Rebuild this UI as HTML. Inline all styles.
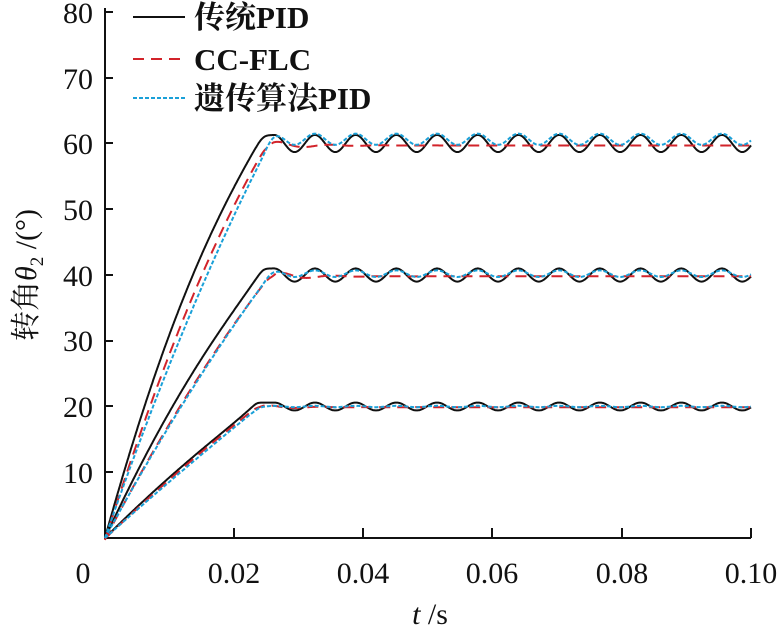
<!DOCTYPE html>
<html><head><meta charset="utf-8"><style>
html,body{margin:0;padding:0;background:#fff;}
svg{display:block;}
text{font-family:"Liberation Serif","Noto Serif CJK SC",serif;fill:#111;}
</style></head><body>
<svg id="s" width="784" height="630" viewBox="0 0 784 630" xmlns="http://www.w3.org/2000/svg">
<g stroke="#111" stroke-width="2" fill="none">
<path d="M105,8 V538 H751"/>
<path d="M105,12 h8 M105,78 h8 M105,143 h8 M105,209 h8 M105,275 h8 M105,341 h8 M105,406 h8 M105,472 h8"/>
<path d="M234,538 v-10 M363,538 v-10 M492,538 v-10 M622,538 v-10 M751,538 v-10"/>
</g>
<g font-size="30" text-anchor="end">
<text x="93" y="23">80</text><text x="93" y="89">70</text><text x="93" y="154">60</text><text x="93" y="220">50</text>
<text x="93" y="286">40</text><text x="93" y="351">30</text><text x="93" y="417">20</text><text x="93" y="483">10</text>
</g>
<g font-size="30" text-anchor="middle">
<text x="83" y="583">0</text><text x="234" y="583">0.02</text><text x="363" y="583">0.04</text><text x="492" y="583">0.06</text><text x="622" y="583">0.08</text><text x="751" y="583">0.10</text>
<text x="430" y="624"><tspan font-style="italic">t</tspan> /s</text>
</g>
<text transform="translate(36,275) rotate(-90)" font-size="30" text-anchor="middle">转角<tspan font-style="italic">θ</tspan><tspan font-size="19" dy="7">2</tspan><tspan dy="-7"> /(°)</tspan></text>
<g id="curves" fill="none"></g>
<g>
<line x1="133" y1="17" x2="185" y2="17" stroke="#111" stroke-width="2"/>
<line x1="133" y1="59" x2="185" y2="59" stroke="#d2232a" stroke-width="2" stroke-dasharray="11,7"/>
<line x1="133" y1="98" x2="185" y2="98" stroke="#1aa0d8" stroke-width="2" stroke-dasharray="4,2"/>
<g font-size="31" font-weight="bold">
<text x="194" y="28">传统PID</text>
<text x="194" y="70">CC-FLC</text>
<text x="194" y="109">遗传算法PID</text>
</g></g>
</svg>
<script>
var X=function(t){return 105+t*6460;},Y=function(v){return 538-v*6.575;};
var g=document.getElementById('curves');
function add(f,col,dash){var d='';for(var i=0;i<=1000;i++){var t=i/10000;d+=(i?'L':'M')+X(t).toFixed(1)+','+Y(f(t)).toFixed(1);}
var p=document.createElementNS('http://www.w3.org/2000/svg','path');p.setAttribute('d',d);p.setAttribute('stroke',col);p.setAttribute('stroke-width','2');if(dash)p.setAttribute('stroke-dasharray',dash);g.appendChild(p);}
var P=0.0063,TP=0.0262;
function osc(t){return Math.cos(2*Math.PI*(t-TP)/P);}
function smin(a,b,w){var d=b-a;return b-w*Math.log(1+Math.exp(d/w));}
function base(A,T,k,w,t){var u=t/T;var r=A*(u*(1+k)-k*u*u);if(u>1)r=A*(1-k)*u+k*A*1; return smin(r,A,w);}
function sig(x){return 1/(1+Math.exp(-x));}
function black(A,T,k,amp){return function(t){
 if(t<TP){var b=base(A,T,k,A*0.008,t);return b+amp*Math.pow(Math.max(0,b/A),10);}
 return A+amp*osc(t);};}
function red(A,T,k,amp){return function(t){
 var b=base(A,T,k,A*0.01,t)-0.3*(A/60);
 return b+(t>T?amp*Math.exp(-(t-T)/0.005)*Math.sin(2*Math.PI*(t-T)/0.008)*Math.min(1,(t-T)/0.001):0);};}
function blue(A,T,k,amp,off){return function(t){
 var s=sig((t-T)/0.0008);return base(A,T,k,A*0.012,t)+off*s+amp*s*osc(t);};}
add(black(60,0.0245,0.45,1.3),'#111');
add(black(40,0.0245,0.3,1.0),'#111');
add(black(20,0.0235,0.15,0.6),'#111');
add(red(60,0.025,0.3,0.8),'#d2232a','11,7');
add(red(40,0.0255,0.2,0.8),'#d2232a','11,7');
add(red(20,0.0235,0.1,0.4),'#d2232a','11,7');
add(blue(60,0.0255,0.2,0.85,0.65),'#1aa0d8','4,2');
add(blue(40,0.0255,0.15,0.5,0.2),'#1aa0d8','4,2');
add(blue(20,0.024,0.05,0.1,0),'#1aa0d8','4,2');
</script>
</body></html>
